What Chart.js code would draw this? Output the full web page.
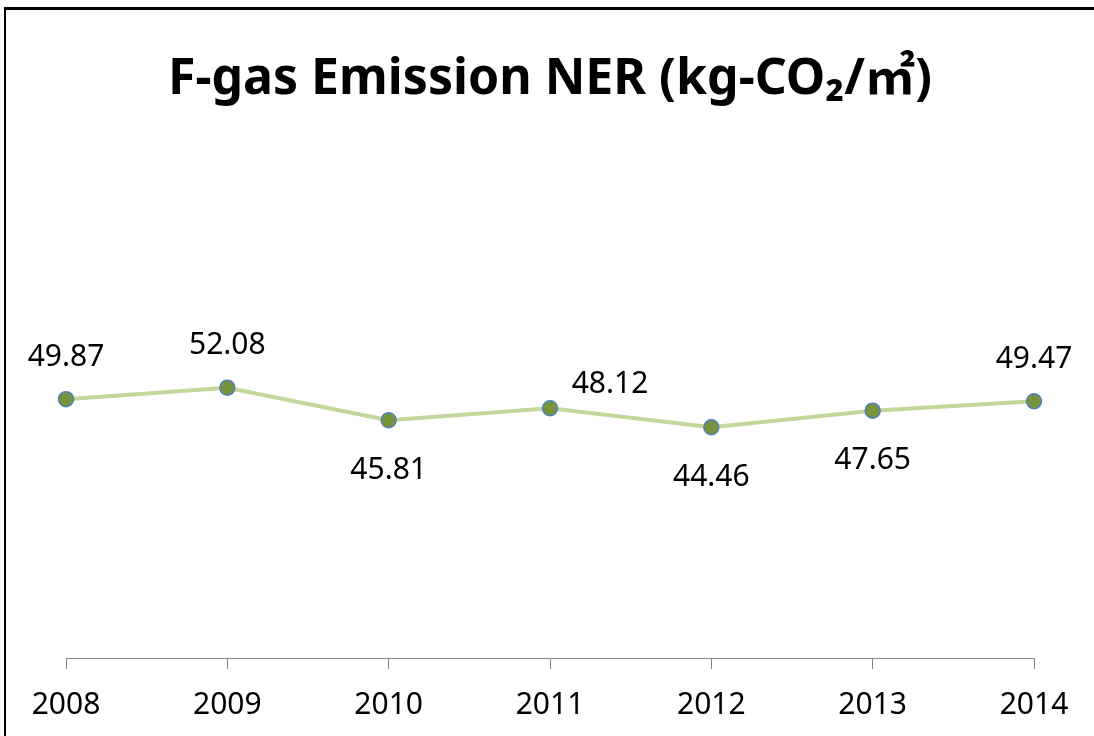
<!DOCTYPE html>
<html>
<head>
<meta charset="utf-8">
<script src="https://cdn.jsdelivr.net/npm/chart.js@4/dist/chart.umd.min.js"></script>
<style>
  html, body { margin: 0; padding: 0; background: #fff; }
  #wrap { position: relative; width: 1094px; height: 736px; overflow: hidden; }
  #chart { display: block; }
  #frame { position: absolute; left: 4px; top: 7px; right: -10px; bottom: -10px;
           border-left: 2px solid #000; border-top: 3px solid #000; pointer-events: none; }
</style>
</head>
<body>
<div id="wrap">
  <canvas id="chart" width="1094" height="745"></canvas>
  <div id="frame"></div>
</div>
<script>
const years = ["2008", "2009", "2010", "2011", "2012", "2013", "2014"];
const nerValues = [49.87, 52.08, 45.81, 48.12, 44.46, 47.65, 49.47];
// where each value label sits relative to its point
const labelPlace = ["above", "above", "below", "right", "below", "below", "above"];

const FONT = "'Noto Sans', 'Noto Sans CJK KR', sans-serif";

// simple value-label plugin (no datalabels plugin available)
const valueLabels = {
  id: "valueLabels",
  afterDatasetsDraw(chart) {
    const ctx = chart.ctx;
    const meta = chart.getDatasetMeta(0);
    ctx.save();
    ctx.font = "30px " + FONT;
    ctx.fillStyle = "#000";
    ctx.textAlign = "center";
    ctx.textBaseline = "middle";
    meta.data.forEach((pt, i) => {
      let x = pt.x, y = pt.y;
      const p = labelPlace[i];
      if (p === "above") { y -= 42; }
      else if (p === "below") { y += 50; }
      else if (p === "right") { x += 60; y -= 24; }
      ctx.fillText(nerValues[i].toFixed(2), x, y);
    });
    ctx.restore();
  }
};

new Chart(document.getElementById("chart"), {
  type: "line",
  data: {
    labels: years,
    datasets: [{
      label: "F-gas Emission NER",
      data: nerValues,
      borderColor: "#C3D69B",
      borderWidth: 4,
      pointRadius: 7.5,
      pointHoverRadius: 7.5,
      pointBackgroundColor: "#77933C",
      pointBorderColor: "#4F81BD",
      pointBorderWidth: 1.5,
      tension: 0
    }]
  },
  options: {
    responsive: false,
    animation: false,
    layout: { padding: { left: 66, right: 60, top: 0, bottom: 4 } },
    plugins: {
      legend: { display: false },
      tooltip: { enabled: false },
      title: {
        display: true,
        text: "F-gas Emission NER (kg-CO₂/㎡)",
        color: "#000",
        font: { family: FONT, size: 50, weight: "bold" },
        padding: { top: 50, bottom: 29 }
      }
    },
    scales: {
      x: {
        offset: false,
        grid: { drawOnChartArea: false, drawTicks: true, tickLength: 11, color: "#868686" },
        border: { display: true, color: "#868686", width: 1 },
        ticks: { color: "#000", font: { family: FONT, size: 30 }, padding: 18, maxRotation: 0 }
      },
      y: {
        display: false,
        min: 0,
        max: 100
      }
    }
  },
  plugins: [valueLabels]
});
</script>
</body>
</html>
